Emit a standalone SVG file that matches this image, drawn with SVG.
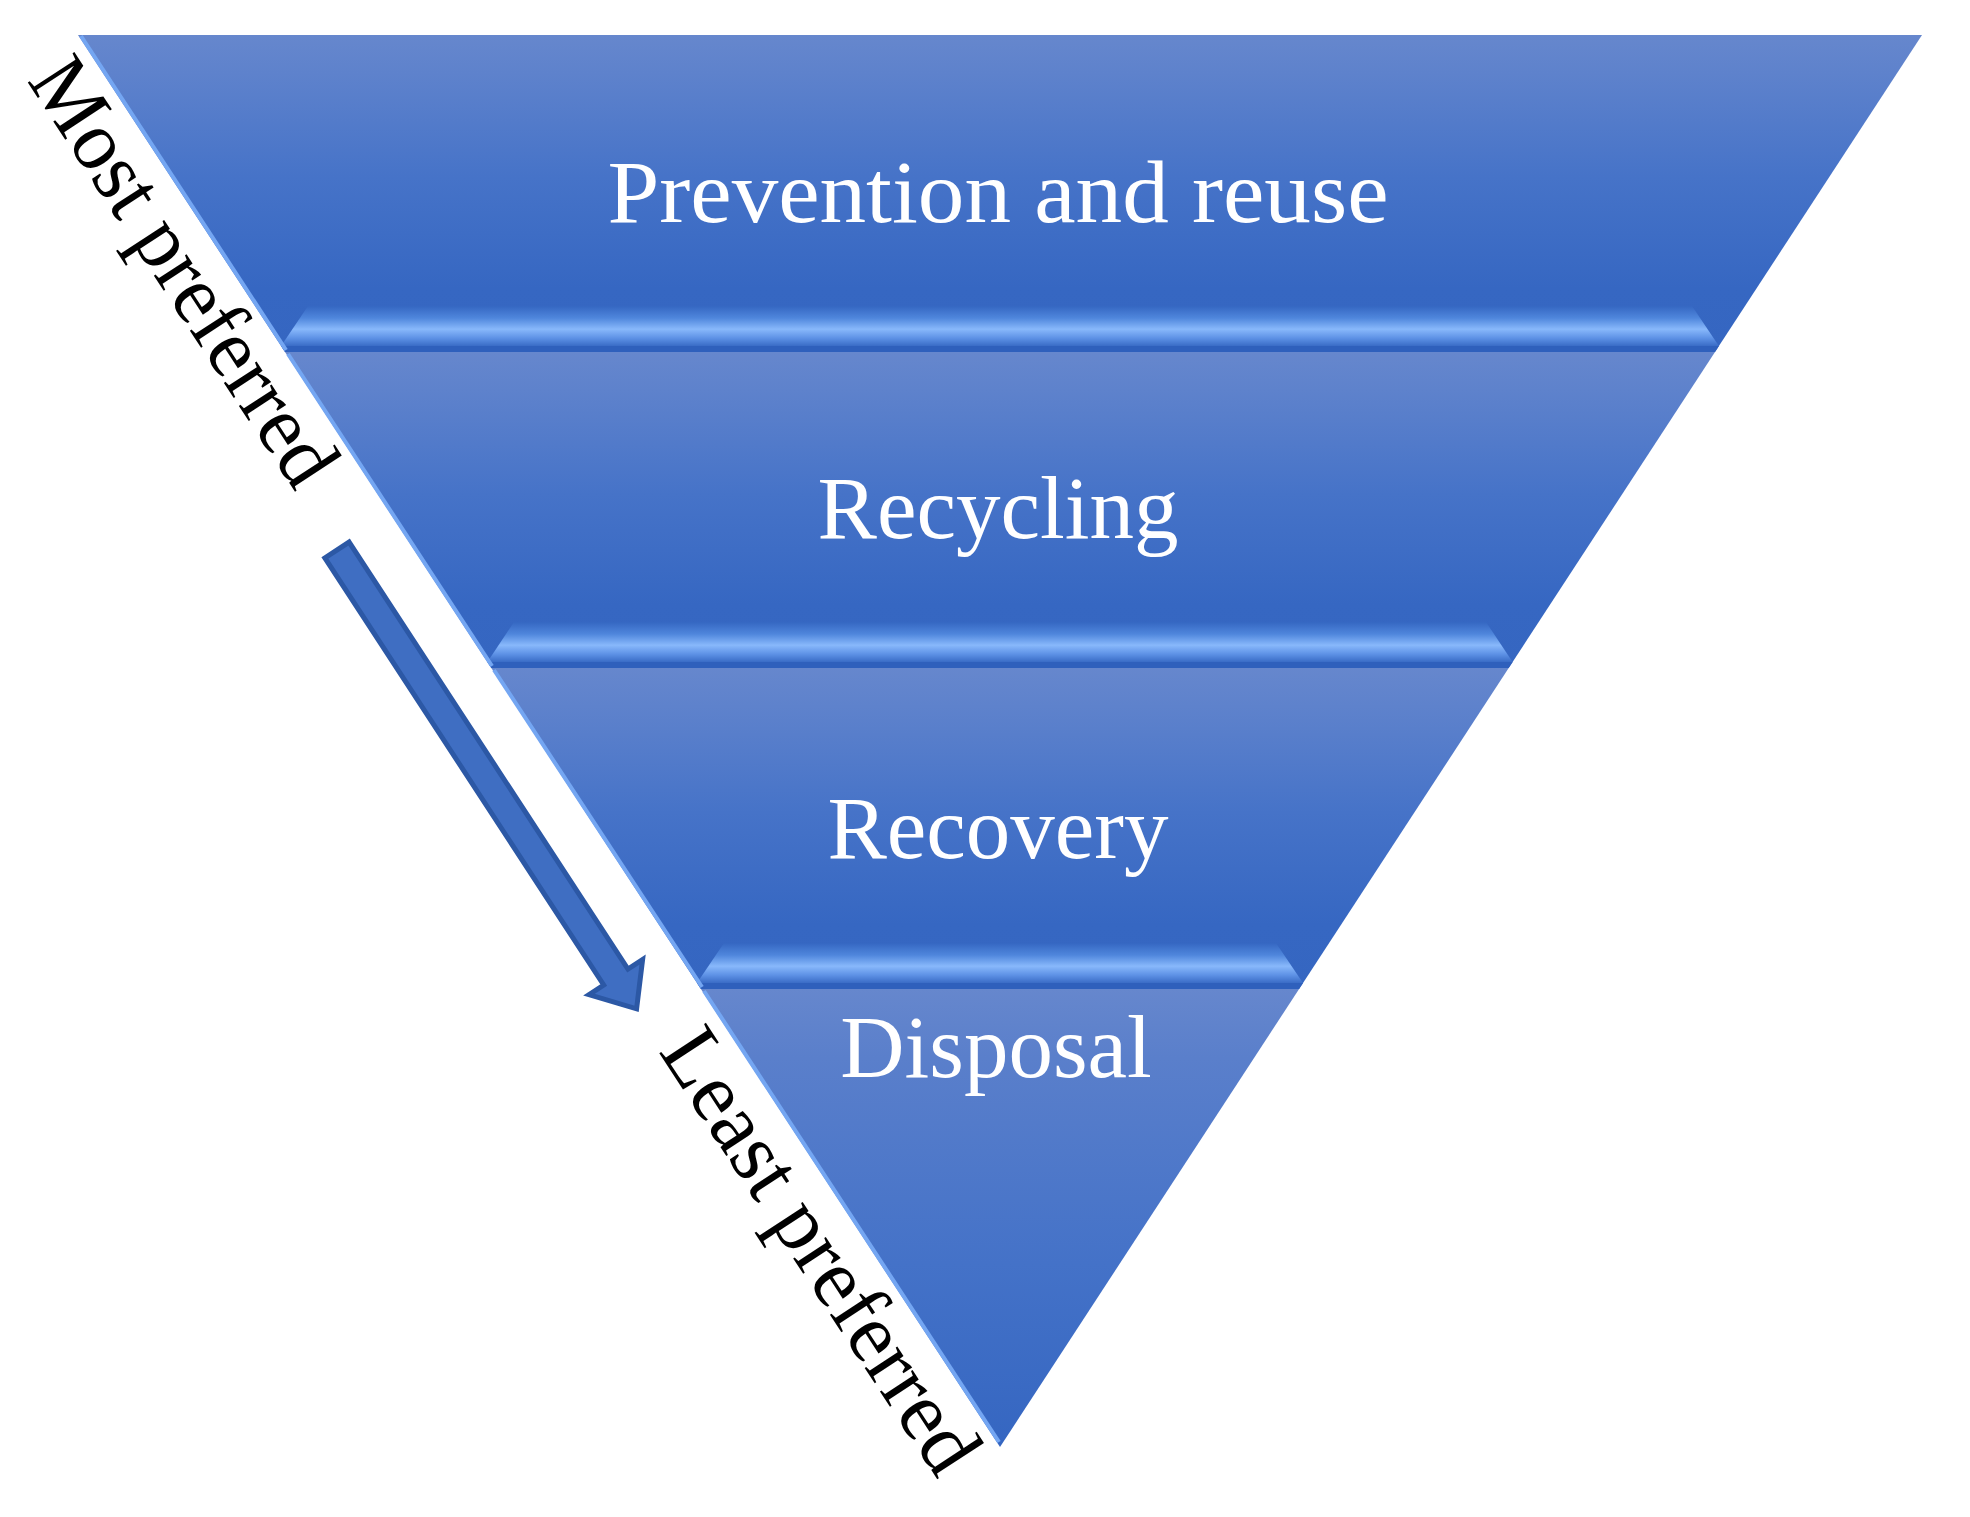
<svg xmlns="http://www.w3.org/2000/svg" width="1970" height="1517" viewBox="0 0 1970 1517">
<style>
.lbl{font-family:"Liberation Serif","Times New Roman",serif;font-size:89px;fill:#ffffff;text-anchor:middle}
.side{font-family:"Liberation Serif","Times New Roman",serif;font-size:85px;fill:#000000}
.band{fill:url(#bandGrad)}
.strip{fill:url(#bevelGrad)}
.dark{fill:#2F60BC}
.hl{stroke:#74A6F2;stroke-width:4;fill:none}
</style>
<defs>
<linearGradient id="bandGrad" x1="0" y1="0" x2="0" y2="1">
<stop offset="0" stop-color="#6687CD"/>
<stop offset="0.12" stop-color="#5E82CC"/>
<stop offset="0.45" stop-color="#4673C8"/>
<stop offset="0.8" stop-color="#3667C2"/>
<stop offset="1" stop-color="#3566C1"/>
</linearGradient>
<linearGradient id="tipGrad" x1="0" y1="0" x2="0" y2="1">
<stop offset="0" stop-color="#6687CD"/>
<stop offset="0.15" stop-color="#5A7FCB"/>
<stop offset="0.6" stop-color="#4472C8"/>
<stop offset="1" stop-color="#3566C1"/>
</linearGradient>
<linearGradient id="bevelGrad" x1="0" y1="0" x2="0" y2="1">
<stop offset="0" stop-color="#3567C2"/>
<stop offset="0.3" stop-color="#4F86DC"/>
<stop offset="0.58" stop-color="#88B8FB"/>
<stop offset="0.8" stop-color="#5E92E6"/>
<stop offset="1" stop-color="#3A6CC6"/>
</linearGradient>
</defs>

<g id="band-prevention">
<polygon class="band" points="78,35 1922,35 1715,352 285,352"/>
<polygon class="strip" points="281.1,346 308,306 1692,306 1718.9,346"/>
<polygon class="dark" points="281.1,346 1718.9,346 1715,352 285,352"/>
<line class="hl" x1="81" y1="36" x2="286" y2="350"/>
<text class="lbl" x="998" y="222" textLength="781" lengthAdjust="spacingAndGlyphs">Prevention and reuse</text>
</g>

<g id="band-recycling">
<polygon class="band" points="285,352 1715,352 1508.7,668 491.3,668"/>
<polygon class="strip" points="487.4,662 514,622 1486,622 1512.6,662"/>
<polygon class="dark" points="487.4,662 1512.6,662 1508.7,668 491.3,668"/>
<line class="hl" x1="288" y1="354" x2="492" y2="666"/>
<text class="lbl" x="998" y="538">Recycling</text>
</g>

<g id="band-recovery">
<polygon class="band" points="491.3,668 1508.7,668 1299.1,989 700.9,989"/>
<polygon class="strip" points="697,983 724,943 1276,943 1303,983"/>
<polygon class="dark" points="697,983 1303,983 1299.1,989 700.9,989"/>
<line class="hl" x1="494" y1="670" x2="702" y2="987"/>
<text class="lbl" x="998" y="858">Recovery</text>
</g>

<g id="band-disposal">
<polygon fill="url(#tipGrad)" points="700.9,989 1299.1,989 1000,1447"/>
<line class="hl" x1="704" y1="991" x2="999" y2="1442"/>
<text class="lbl" x="996" y="1077">Disposal</text>
</g>

<g id="label-most">
<text class="side" transform="translate(26.6,80.6) rotate(56.86)" textLength="492" lengthAdjust="spacingAndGlyphs">Most preferred</text>
</g>
<g id="label-least">
<text class="side" transform="translate(657.9,1051.3) rotate(56.86)" textLength="512" lengthAdjust="spacingAndGlyphs">Least preferred</text>
</g>

<g id="connectors">
<path transform="translate(337,550) rotate(56.86)" d="M0,-14.5 L510,-14.5 L510,-32 L548,0 L510,32 L510,14.5 L0,14.5 Z" fill="#3F6EC2" stroke="#2C58A5" stroke-width="5" stroke-linejoin="miter"/>
</g>
</svg>
